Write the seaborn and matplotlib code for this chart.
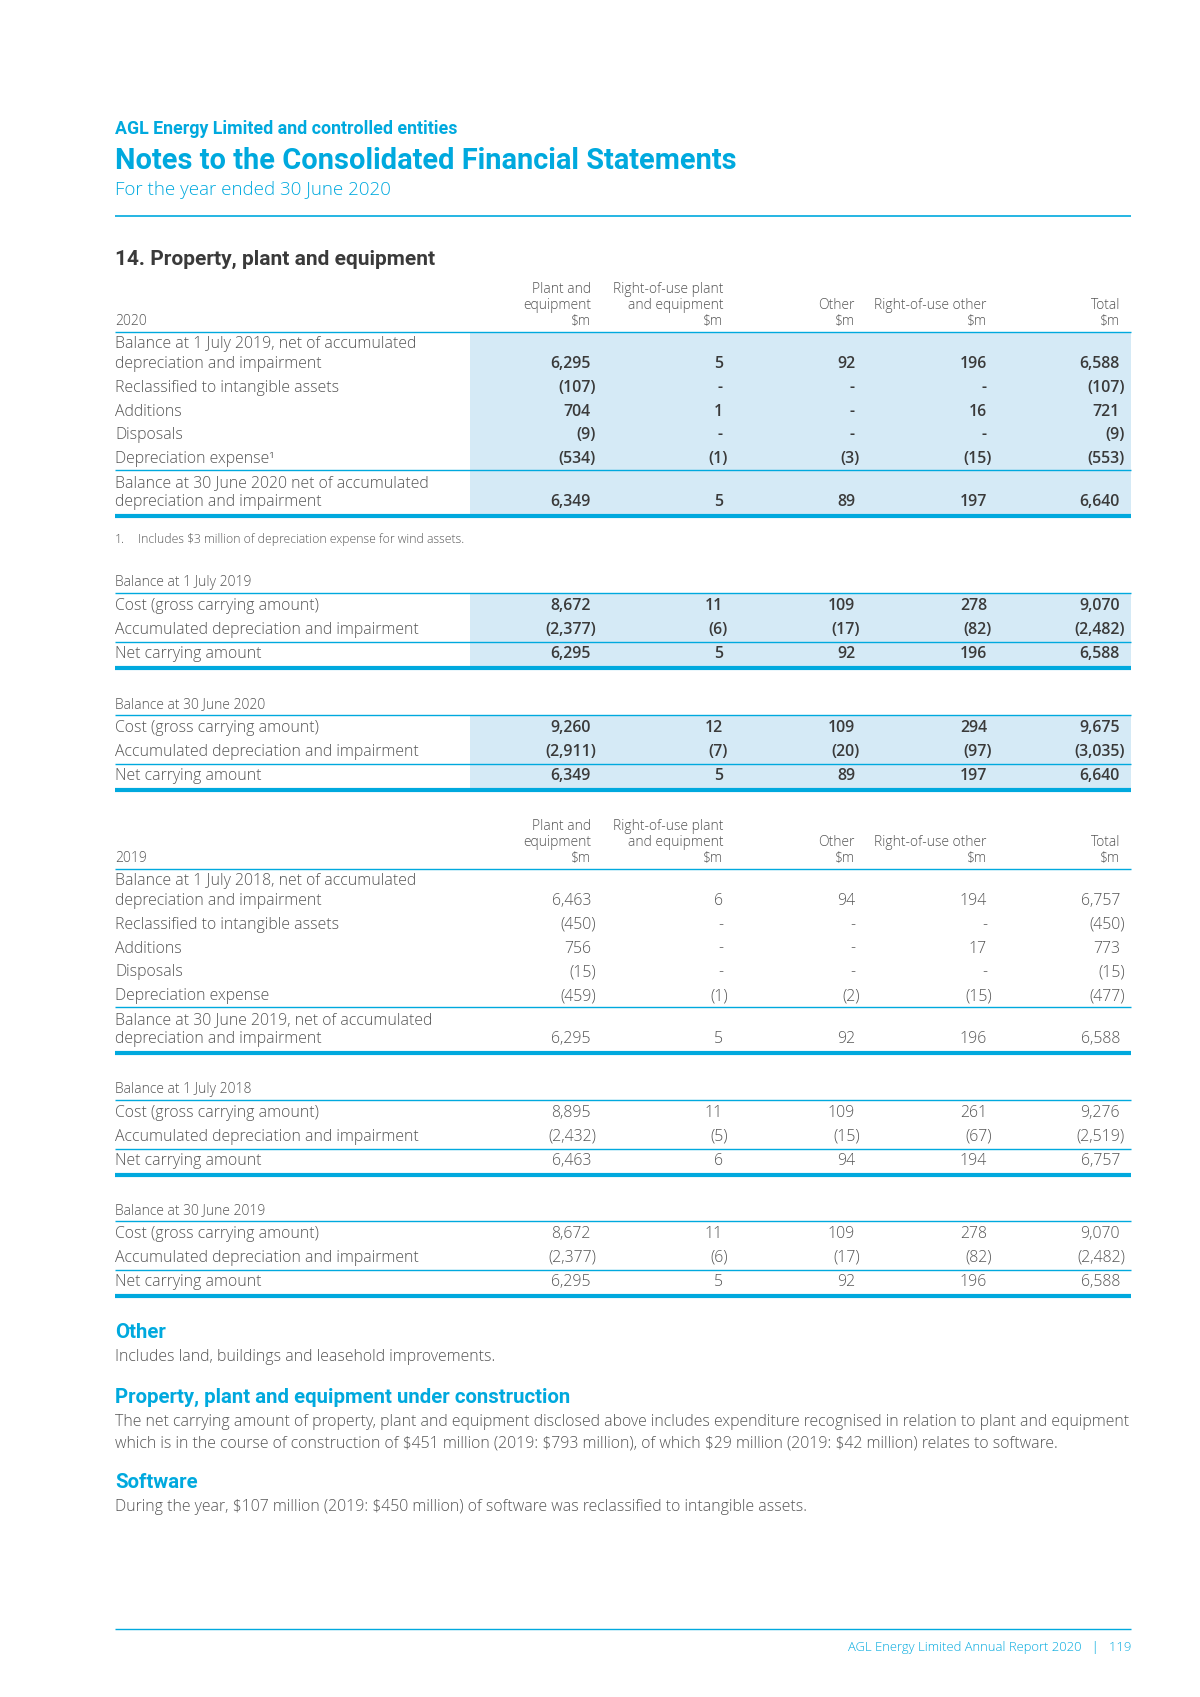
import matplotlib
matplotlib.use("Agg")
import matplotlib.pyplot as plt
import seaborn as sns

sns.set_theme(style="white")
plt.rcParams["font.family"] = ["Open Sans", "DejaVu Sans"]
plt.rcParams["text.parse_math"] = False

# ---------------------------------------------------------------
# Data
# ---------------------------------------------------------------
col_headers = [
    ["Plant and", "equipment", "$m"],
    ["Right-of-use plant", "and equipment", "$m"],
    ["Other", "$m"],
    ["Right-of-use other", "$m"],
    ["Total", "$m"],
]

mov_labels_2020 = [
    ["Balance at 1 July 2019, net of accumulated", "depreciation and impairment"],
    ["Reclassified to intangible assets"],
    ["Additions"],
    ["Disposals"],
    ["Depreciation expense\u00b9"],
]
mov_values_2020 = [
    [6295, 5, 92, 196, 6588],
    [-107, None, None, None, -107],
    [704, 1, None, 16, 721],
    [-9, None, None, None, -9],
    [-534, -1, -3, -15, -553],
]
close_label_2020 = ["Balance at 30 June 2020 net of accumulated", "depreciation and impairment"]
close_values_2020 = [6349, 5, 89, 197, 6640]

mov_labels_2019 = [
    ["Balance at 1 July 2018, net of accumulated", "depreciation and impairment"],
    ["Reclassified to intangible assets"],
    ["Additions"],
    ["Disposals"],
    ["Depreciation expense"],
]
mov_values_2019 = [
    [6463, 6, 94, 194, 6757],
    [-450, None, None, None, -450],
    [756, None, None, 17, 773],
    [-15, None, None, None, -15],
    [-459, -1, -2, -15, -477],
]
close_label_2019 = ["Balance at 30 June 2019, net of accumulated", "depreciation and impairment"]
close_values_2019 = [6295, 5, 92, 196, 6588]

bal_rows = ["Cost (gross carrying amount)", "Accumulated depreciation and impairment", "Net carrying amount"]
bal_jul2019 = [[8672, 11, 109, 278, 9070], [-2377, -6, -17, -82, -2482], [6295, 5, 92, 196, 6588]]
bal_jun2020 = [[9260, 12, 109, 294, 9675], [-2911, -7, -20, -97, -3035], [6349, 5, 89, 197, 6640]]
bal_jul2018 = [[8895, 11, 109, 261, 9276], [-2432, -5, -15, -67, -2519], [6463, 6, 94, 194, 6757]]
bal_jun2019 = [[8672, 11, 109, 278, 9070], [-2377, -6, -17, -82, -2482], [6295, 5, 92, 196, 6588]]

# ---------------------------------------------------------------
# Style
# ---------------------------------------------------------------
CYAN = "#00a9de"
SHADE = "#d5eaf6"
GREY = "#555555"
DARK = "#3a3a3a"
HEAD_FONT = ["Roboto", "DejaVu Sans"]
LEFT, RIGHT, SHADE_X = 115, 1131, 470
COL_X = [591, 723, 855, 987, 1120]
ROW_FS = 11.4
HDR_FS = 10

fig = plt.figure(figsize=(12, 16.97), dpi=100)
ax = fig.add_axes([0, 0, 1, 1])
ax.set_xlim(0, 1200)
ax.set_ylim(1697, 0)
ax.axis("off")


def fmt(v):
    if v is None:
        return "-"
    if v < 0:
        return f"({-v:,})"
    return f"{v:,}"


def txt(x, y, s, fontsize=ROW_FS, **kw):
    # y is the visual middle of the line, shift down to the baseline
    ax.text(x, y + 0.48 * fontsize, s, va="baseline", fontsize=fontsize, **kw)


def rule(y, thick=False):
    ax.hlines(y, LEFT, RIGHT, color=CYAN, lw=3.0 if thick else 1.0)


def value_row(y, vals, bold):
    for x, v in zip(COL_X, vals):
        s = fmt(v)
        xx = x + 5 if s.endswith(")") else x
        txt(xx, y, s, ha="right", color=DARK if bold else GREY,
            fontweight="semibold" if bold else "light")


def movement_table(top, year, labels, values, close_label, close_values, bold):
    # header, bottom header line sits at top
    txt(LEFT, top, year, fontsize=HDR_FS, color=GREY, fontweight="light")
    for x, lines in zip(COL_X, col_headers):
        for k, line in enumerate(reversed(lines)):
            txt(x, top - 16 * k, line, ha="right", fontsize=HDR_FS, color=GREY, fontweight="light")
    rule(top + 12)
    if bold:
        ax.fill_between([SHADE_X, RIGHT], top + 12, top + 196, color=SHADE, lw=0, zorder=0)
    y = top + 23
    for lab, vals in zip(labels, values):
        for k, line in enumerate(lab):
            txt(LEFT, y + 19.5 * k, line, color=GREY, fontweight="light")
        y += 19.5 * (len(lab) - 1)
        value_row(y, vals, bold)
        y += 23.8
    rule(top + 150)
    for k, line in enumerate(close_label):
        txt(LEFT, top + 161.5 + 19.5 * k, line, color=GREY, fontweight="light")
    value_row(top + 181, close_values, bold)
    rule(top + 196, thick=True)


def balance_table(top, title, values, bold):
    txt(LEFT, top, title, fontsize=HDR_FS, color=GREY, fontweight="light")
    rule(top + 12)
    if bold:
        ax.fill_between([SHADE_X, RIGHT], top + 12, top + 87, color=SHADE, lw=0, zorder=0)
    ys = [top + 23.5, top + 47.5, top + 72]
    for yy, lab, vals in zip(ys, bal_rows, values):
        txt(LEFT, yy, lab, color=GREY, fontweight="light")
        value_row(yy, vals, bold)
    rule(top + 60.5)
    rule(top + 87, thick=True)


# ---------------------------------------------------------------
# Page header
# ---------------------------------------------------------------
txt(LEFT, 128, "AGL Energy Limited and controlled entities", fontsize=12.8, color=CYAN,
    fontweight="bold", family=HEAD_FONT)
txt(LEFT, 159, "Notes to the Consolidated Financial Statements", fontsize=20.9, color=CYAN,
    fontweight="bold", family=HEAD_FONT)
txt(LEFT, 189, "For the year ended 30 June 2020", fontsize=13.5, color=CYAN, fontweight="light")
ax.hlines(216, LEFT, RIGHT, color=CYAN, lw=1.2)
txt(LEFT, 258, "14. Property, plant and equipment", fontsize=15, color=DARK,
    fontweight="bold", family=HEAD_FONT)

# ---------------------------------------------------------------
# Tables
# ---------------------------------------------------------------
movement_table(320, "2020", mov_labels_2020, mov_values_2020, close_label_2020, close_values_2020, True)
txt(LEFT, 539, "1.", fontsize=8.7, color=GREY, fontweight="light")
txt(LEFT + 23, 539, "Includes $3 million of depreciation expense for wind assets.", fontsize=8.7,
    color=GREY, fontweight="light")
balance_table(581, "Balance at 1 July 2019", bal_jul2019, True)
balance_table(703, "Balance at 30 June 2020", bal_jun2020, True)

movement_table(857, "2019", mov_labels_2019, mov_values_2019, close_label_2019, close_values_2019, False)
balance_table(1088, "Balance at 1 July 2018", bal_jul2018, False)
balance_table(1209, "Balance at 30 June 2019", bal_jun2019, False)

# ---------------------------------------------------------------
# Notes
# ---------------------------------------------------------------
txt(LEFT, 1331, "Other", fontsize=14.7, color=CYAN, fontweight="bold", family=HEAD_FONT)
txt(LEFT, 1356, "Includes land, buildings and leasehold improvements.", color=GREY, fontweight="light")
txt(LEFT, 1396, "Property, plant and equipment under construction", fontsize=14.7, color=CYAN,
    fontweight="bold", family=HEAD_FONT)
txt(LEFT, 1421, "The net carrying amount of property, plant and equipment disclosed above includes "
    "expenditure recognised in relation to plant and equipment", color=GREY, fontweight="light")
txt(LEFT, 1442, "which is in the course of construction of $451 million (2019: $793 million), of which "
    "$29 million (2019: $42 million) relates to software.", color=GREY, fontweight="light")
txt(LEFT, 1481, "Software", fontsize=14.7, color=CYAN, fontweight="bold", family=HEAD_FONT)
txt(LEFT, 1506, "During the year, $107 million (2019: $450 million) of software was reclassified to "
    "intangible assets.", color=GREY, fontweight="light")

# footer
ax.hlines(1629, LEFT, RIGHT, color=CYAN, lw=1.0)
txt(RIGHT, 1646, "AGL Energy Limited Annual Report 2020   |   119", ha="right", fontsize=9.4,
    color=CYAN, fontweight="light")

fig.savefig("out.png", dpi=100, facecolor="white")
